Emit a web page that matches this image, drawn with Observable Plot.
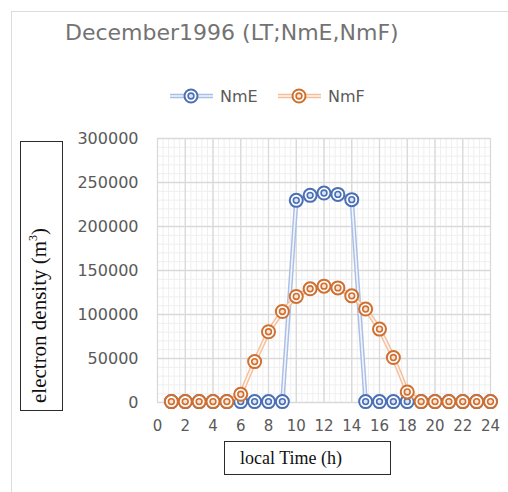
<!DOCTYPE html>
<html>
<head>
<meta charset="utf-8">
<script src="https://cdn.jsdelivr.net/npm/d3@7"></script>
<script src="https://cdn.jsdelivr.net/npm/@observablehq/plot@0.6"></script>
<style>
  html, body { margin: 0; padding: 0; background: #fff; }
  #chart { position: relative; width: 508px; height: 492px; overflow: hidden; background: #fff; }
  #outline { position: absolute; left: 11px; top: 11px; width: 600px; height: 600px;
             border-left: 1.5px solid #dcdcdc; border-top: 1.5px solid #dcdcdc; }
  #title { position: absolute; left: 65px; top: 21px; font: 22px "DejaVu Sans", sans-serif;
           color: #737373; white-space: nowrap; line-height: 24px; }
  #legend { position: absolute; left: 160px; top: 84px; }
  #plot { position: absolute; left: 0; top: 125px; }
  .axbox { position: absolute; box-sizing: border-box; border: 1.5px solid #2b2b2b; background: #fff; }
  #ybox { left: 20px; top: 141px; width: 43px; height: 270px; }
  #ylab { position: absolute; left: 7px; top: 261px; transform-origin: 0 0; transform: rotate(-90deg);
          font: 21px "Liberation Serif", "Times New Roman", serif; color: #111; white-space: nowrap; line-height: 22px; }
  #ylab sup { font-size: 12px; vertical-align: 9px; line-height: 0; }
  #xbox { left: 224px; top: 441px; width: 167px; height: 34px; }
  #xlab { position: absolute; left: 15px; top: 5px; font: 18px "Liberation Serif", "Times New Roman", serif;
          color: #111; white-space: nowrap; line-height: 22px; }
</style>
</head>
<body>
<div id="chart">
  <div id="outline"></div>
  <div id="title">December1996 (LT;NmE,NmF)</div>
  <div id="legend"></div>
  <div id="plot"></div>
  <div class="axbox" id="ybox"><span id="ylab">electron density (m<sup>3</sup>)</span></div>
  <div class="axbox" id="xbox"><span id="xlab">local Time (h)</span></div>
</div>
<script>
// Local time (hours) and peak electron densities of the E and F layers
const hours = [1, 2, 3, 4, 5, 6, 7, 8, 9, 10, 11, 12, 13, 14, 15, 16, 17, 18, 19, 20, 21, 22, 23, 24];
const nmE = [1000, 1000, 1000, 1000, 1000, 1000, 1000, 1000, 1000, 229700, 235400, 238000, 236500, 230500,
             1000, 1000, 1000, 1000, 1000, 1000, 1000, 1000, 1000, 1000];
const nmF = [1000, 1000, 1000, 1000, 1000, 9300, 46500, 80400, 103400, 120500, 129200, 132200, 130200, 121200,
             106200, 83400, 51100, 12000, 1000, 1000, 1000, 1000, 1000, 1000];
const seriesNames = ["NmE", "NmF"];
const xTicks = [0, 2, 4, 6, 8, 10, 12, 14, 16, 18, 20, 22, 24];
const yTicks = [0, 50000, 100000, 150000, 200000, 250000, 300000];

const ring = {NmE: "#4a6fb5", NmF: "#cf6f30"};
const lineCol = {NmE: "#a9bfe6", NmF: "#f5bf9a"};
const tint = {NmE: "#dce5f5", NmF: "#fbe3d2"};

const rows = seriesNames.flatMap(name =>
  hours.map((h, i) => ({series: name, hour: h, value: (name === "NmE" ? nmE : nmF)[i]})));

// Minor gridlines: five subdivisions of each major step
const minorX = d3.range(0, 61).map(i => i * 0.4);
const minorY = d3.range(0, 31).map(i => i * 10000);

function seriesMarks(name) {
  const d = rows.filter(r => r.series === name);
  return [
    // compound (double) line: wide light stroke with a white core
    Plot.line(d, {x: "hour", y: "value", stroke: lineCol[name], strokeWidth: 4.5}),
    Plot.line(d, {x: "hour", y: "value", stroke: "#fff", strokeWidth: 1.6, strokeOpacity: 0.85}),
    Plot.dot(d, {x: "hour", y: "value", r: 6.5, stroke: ring[name], strokeWidth: 2, fill: "#fff", fillOpacity: 0.9}),
    Plot.dot(d, {x: "hour", y: "value", r: 2.9, stroke: ring[name], strokeWidth: 1.6, fill: tint[name]})
  ];
}

const chart = Plot.plot({
  width: 508,
  height: 367,
  marginTop: 13,
  marginBottom: 90,
  marginLeft: 157,
  marginRight: 18,
  style: {fontFamily: "DejaVu Sans, sans-serif", color: "#595959", background: "transparent"},
  x: {domain: [0, 24]},
  y: {domain: [0, 300000]},
  marks: [
    Plot.ruleX(minorX, {stroke: "#efefef", strokeWidth: 1}),
    Plot.ruleY(minorY, {stroke: "#efefef", strokeWidth: 1}),
    Plot.ruleX(xTicks, {stroke: "#d9d9d9", strokeWidth: 1.3}),
    Plot.ruleY(yTicks, {stroke: "#d9d9d9", strokeWidth: 1.3}),
    Plot.axisX({ticks: xTicks, tickSize: 0, tickPadding: 18, fontSize: 15, label: null, tickFormat: d => String(d)}),
    Plot.axisY({ticks: yTicks, tickSize: 0, tickPadding: 19, fontSize: 16, label: null, tickFormat: d => String(d)}),
    ...seriesMarks("NmE"),
    ...seriesMarks("NmF")
  ]
});
document.getElementById("plot").appendChild(chart);

// Legend: line-with-marker symbol followed by the series name
const legendPos = {NmE: 0, NmF: 108};
const leg = d3.select("#legend").append("svg").attr("width", 230).attr("height", 24)
  .style("overflow", "visible");
for (const name of seriesNames) {
  const g = leg.append("g").attr("transform", `translate(${legendPos[name]},12)`);
  g.append("line").attr("x1", 10).attr("x2", 53).attr("stroke", lineCol[name]).attr("stroke-width", 4.5);
  g.append("line").attr("x1", 10).attr("x2", 53).attr("stroke", "#fff").attr("stroke-width", 1.6).attr("stroke-opacity", 0.85);
  g.append("circle").attr("cx", 31).attr("r", 6.5).attr("stroke", ring[name]).attr("stroke-width", 2).attr("fill", "#fff");
  g.append("circle").attr("cx", 31).attr("r", 2.9).attr("stroke", ring[name]).attr("stroke-width", 1.6).attr("fill", tint[name]);
  g.append("text").attr("x", 60).attr("dy", "0.36em").text(name)
    .style("font", "16px 'DejaVu Sans', sans-serif").attr("fill", "#595959");
}
</script>
</body>
</html>
